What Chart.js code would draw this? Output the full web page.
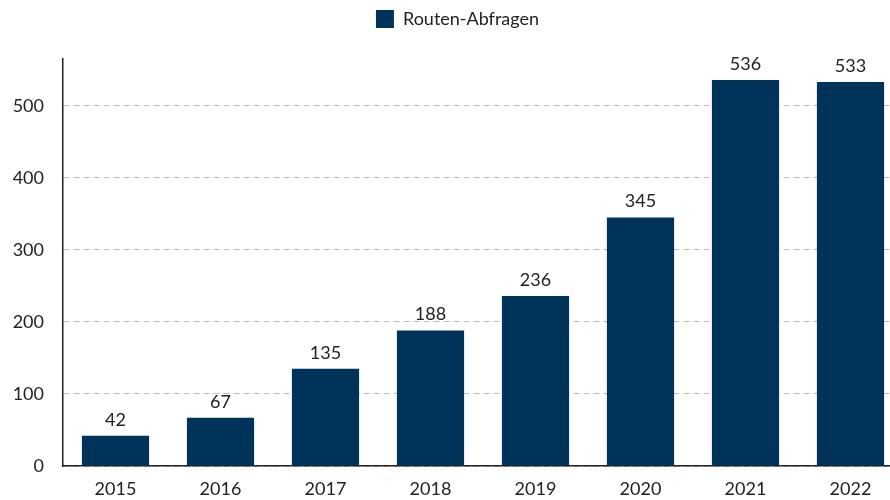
<!DOCTYPE html>
<html>
<head>
<meta charset="utf-8">
<script src="https://cdn.jsdelivr.net/npm/chart.js@4"></script>
<style>
  html, body { margin: 0; padding: 0; background: #fff; overflow: hidden; }
</style>
</head>
<body>
<canvas id="chart" width="903" height="500"></canvas>
<script>
const years = ["2015", "2016", "2017", "2018", "2019", "2020", "2021", "2022"];
const requests = [42, 67, 135, 188, 236, 345, 536, 533];
const seriesName = "Routen-Abfragen";

// Zahlen über den Balken
const valueLabels = {
  id: "valueLabels",
  afterDatasetsDraw(chart) {
    const ctx = chart.ctx;
    const meta = chart.getDatasetMeta(0);
    ctx.save();
    ctx.font = "18px Lato";
    ctx.fillStyle = "#222";
    ctx.textAlign = "center";
    ctx.textBaseline = "bottom";
    meta.data.forEach((bar, i) => {
      ctx.fillText(String(requests[i]), bar.x, bar.y - 7);
    });
    ctx.restore();
  },
};

// etwas Abstand unter der Legende
const legendMargin = {
  id: "legendMargin",
  beforeInit(chart) {
    const fit = chart.legend.fit;
    chart.legend.fit = function () {
      fit.bind(chart.legend)();
      this.height += 21;
    };
  },
};

Chart.defaults.font.family = "Lato";
Chart.defaults.font.size = 18;
Chart.defaults.color = "#222";

new Chart(document.getElementById("chart"), {
  type: "bar",
  data: {
    labels: years,
    datasets: [
      {
        label: seriesName,
        data: requests,
        backgroundColor: "#003359",
        barPercentage: 0.64,
        categoryPercentage: 1,
      },
    ],
  },
  options: {
    responsive: false,
    animation: false,
    layout: { padding: { top: 0, right: 0, left: 12, bottom: 0 } },
    plugins: {
      legend: {
        position: "top",
        labels: { boxWidth: 18, boxHeight: 18, padding: 10, font: { size: 18 } },
      },
      tooltip: { enabled: false },
    },
    scales: {
      x: {
        grid: { display: false, drawTicks: false },
        border: { color: "#222", width: 1.5 },
        ticks: { padding: 12, maxRotation: 0, autoSkip: false },
        afterFit(scale) {
          scale.height = 34;
        },
      },
      y: {
        min: 0,
        max: 565,
        afterBuildTicks(scale) {
          scale.ticks = scale.ticks.filter((t) => t.value % 100 === 0);
        },
        afterFit(scale) {
          scale.width = 51;
        },
        grid: { color: "#bbb", drawTicks: false },
        border: { color: "#222", width: 1.5, dash: [6, 4] },
        ticks: { stepSize: 100, padding: 19 },
      },
    },
  },
  plugins: [valueLabels, legendMargin],
});
</script>
</body>
</html>
